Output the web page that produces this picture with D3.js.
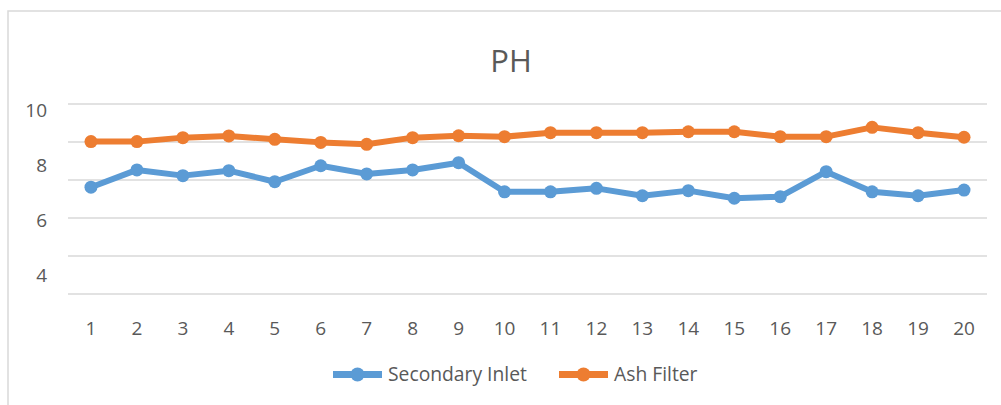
<!DOCTYPE html>
<html>
<head>
<meta charset="utf-8">
<script src="https://cdn.jsdelivr.net/npm/d3@7"></script>
<style>
  body { margin: 0; background: #fff; }
  text { font-family: "Open Sans", sans-serif; fill: #595959; }
</style>
</head>
<body>
<div id="chart"></div>
<script>
// PH readings per sample
const samples = d3.range(1, 21);
const secondaryInlet = [5.62, 6.53, 6.23, 6.49, 5.91, 6.75, 6.32, 6.53, 6.91, 5.38,
                        5.38, 5.56, 5.17, 5.44, 5.04, 5.12, 6.44, 5.38, 5.17, 5.47];
const ashFilter = [8.02, 8.02, 8.23, 8.32, 8.14, 7.98, 7.88, 8.23, 8.33, 8.28,
                   8.49, 8.49, 8.49, 8.54, 8.54, 8.28, 8.28, 8.77, 8.49, 8.25];
const gridValues = [0, 2, 4, 6, 8, 10];
const yLabels = [10, 8, 6, 4];
const seriesNames = ["Secondary Inlet", "Ash Filter"];
const colors = ["#5B9BD5", "#ED7D31"];

const width = 1001, height = 405;
const plot = { left: 68, right: 987, top: 104, bottom: 294 };

const svg = d3.select("#chart").append("svg")
    .attr("width", width)
    .attr("height", height);

// chart area border (only top/left show in frame)
svg.append("rect")
    .attr("x", 8).attr("y", 11)
    .attr("width", 1010).attr("height", 420)
    .attr("fill", "none")
    .attr("stroke", "#d9d9d9")
    .attr("stroke-width", 1.5);

svg.append("text")
    .attr("x", 511).attr("y", 72)
    .attr("text-anchor", "middle")
    .style("font-size", "31px")
    .text("PH");

const x = d3.scaleBand().domain(samples).range([plot.left, plot.right]);
const y = d3.scaleLinear().domain([0, 10]).range([plot.bottom, plot.top]);
// the value labels sit on their own spacing in the source picture
const yLab = d3.scaleLinear().domain([4, 10]).range([275, 110.3]);

svg.append("g").selectAll("line")
    .data(gridValues)
    .join("line")
    .attr("x1", plot.left).attr("x2", plot.right)
    .attr("y1", d => y(d)).attr("y2", d => y(d))
    .attr("stroke", "#d9d9d9")
    .attr("stroke-width", 1.5);

svg.append("g").selectAll("text")
    .data(yLabels)
    .join("text")
    .attr("x", 47)
    .attr("y", d => yLab(d))
    .attr("dy", "0.36em")
    .attr("text-anchor", "end")
    .style("font-size", "19px")
    .text(d => d);

svg.append("g").selectAll("text")
    .data(samples)
    .join("text")
    .attr("x", d => x(d) + x.bandwidth() / 2)
    .attr("y", 328.3)
    .attr("dy", "0.36em")
    .attr("text-anchor", "middle")
    .style("font-size", "19px")
    .text(d => d);

const line = d3.line()
    .x((d, i) => x(samples[i]) + x.bandwidth() / 2)
    .y(d => y(d));

[secondaryInlet, ashFilter].forEach((vals, k) => {
    const g = svg.append("g");
    g.append("path")
        .datum(vals)
        .attr("d", line)
        .attr("fill", "none")
        .attr("stroke", colors[k])
        .attr("stroke-width", 6)
        .attr("stroke-linejoin", "round");
    g.selectAll("circle")
        .data(vals)
        .join("circle")
        .attr("cx", (d, i) => x(samples[i]) + x.bandwidth() / 2)
        .attr("cy", d => y(d))
        .attr("r", 6.5)
        .attr("fill", colors[k]);
});

// legend
const legendX = [333, 559];
const legend = svg.append("g").selectAll("g")
    .data(seriesNames)
    .join("g")
    .attr("transform", (d, i) => "translate(" + legendX[i] + ",374.5)");
legend.append("line")
    .attr("x1", 0).attr("x2", 49)
    .attr("stroke", (d, i) => colors[i])
    .attr("stroke-width", 7);
legend.append("circle")
    .attr("cx", 24.5).attr("r", 7)
    .attr("fill", (d, i) => colors[i]);
legend.append("text")
    .attr("x", 55)
    .attr("dy", "0.36em")
    .style("font-size", "19.3px")
    .text(d => d);
</script>
</body>
</html>
